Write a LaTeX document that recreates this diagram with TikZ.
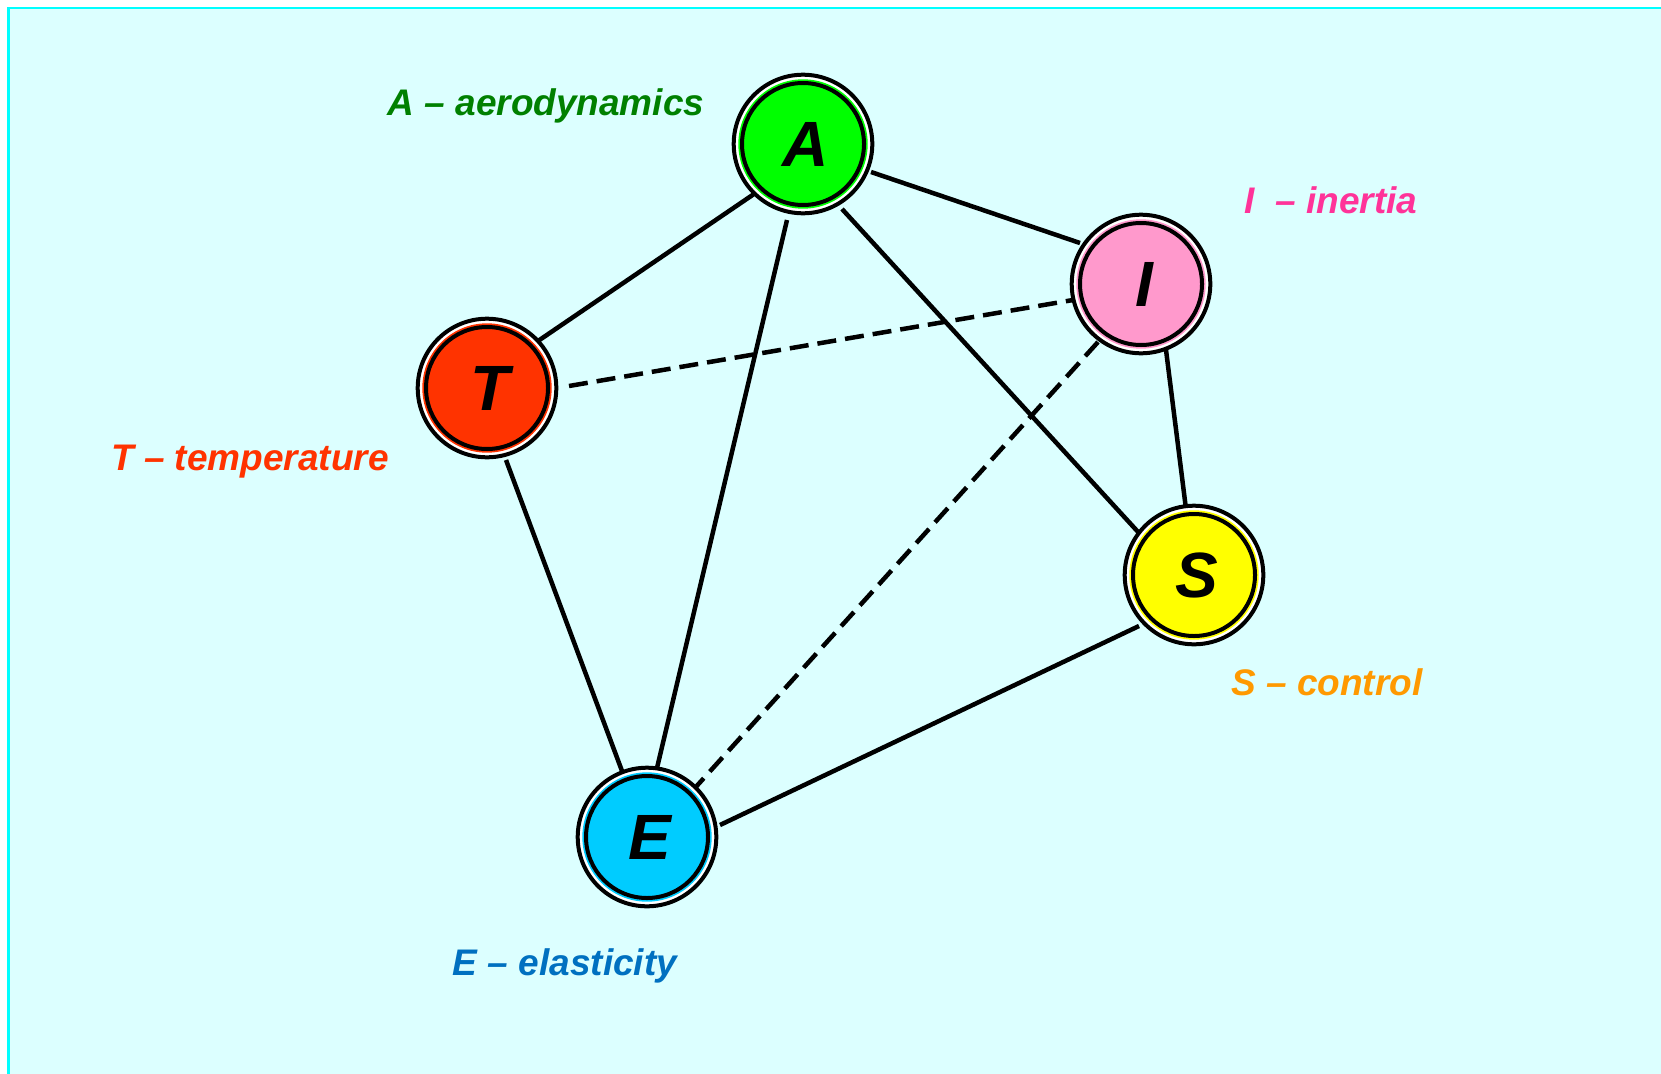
\documentclass[tikz,border=0pt]{standalone}
\usepackage{fontspec}
\setmainfont{Liberation Sans}
\usetikzlibrary{calc}
\definecolor{bgc}{RGB}{220,255,255}
\definecolor{bordc}{RGB}{0,255,255}
\definecolor{cA}{RGB}{0,255,0}
\definecolor{cT}{RGB}{255,51,0}
\definecolor{cI}{RGB}{255,153,204}
\definecolor{cS}{RGB}{255,255,0}
\definecolor{cE}{RGB}{0,204,255}
\definecolor{lA}{RGB}{0,128,0}
\definecolor{lT}{RGB}{255,51,0}
\definecolor{lI}{RGB}{255,51,153}
\definecolor{lS}{RGB}{255,153,0}
\definecolor{lE}{RGB}{0,112,192}
\tikzset{
  outerc/.style={circle, draw=black, line width=4pt, fill=white, minimum size=138.6pt, inner sep=0pt},
  edge/.style={line width=4.5pt, black},
  dedge/.style={edge, dash pattern=on 19pt off 9pt},
  letter/.style={font=\fontsize{64}{64}\selectfont\bfseries\itshape, inner sep=0pt},
  lbl/.style={font=\fontsize{37}{37}\selectfont\bfseries\itshape, anchor=base, inner sep=0pt}
}
\newcommand{\bubble}[4]{%
  \node[outerc] (#1) at (#2) {};
  \fill[#3] (#1.center) circle (64.7pt);
  \draw[black, line width=4pt, fill=#3] (#1.center) circle (61pt);
  \node[letter] (#1txt) at ($(#1.center)+(3,0)$) {#4};
}
\begin{document}
\begin{tikzpicture}[x=1pt,y=-1pt]
\useasboundingbox (0,0) rectangle (1661,1073);
\clip (0,0) rectangle (1661,1073);
\fill[white] (0,0) rectangle (1661,1073);
\draw[bordc, line width=2.7pt, fill=bgc] (8.7,8) rectangle (1700,1100);
% node centres
\coordinate (cAp) at (803,144);
\coordinate (cTp) at (487,388);
\coordinate (cIp) at (1141,284);
\coordinate (cSp) at (1194,575);
\coordinate (cEp) at (647,837);
% edges
\draw[edge] ($(cAp)+(-49,50)$) -- ($(cTp)+(51,-47)$);
\draw[edge] ($(cAp)+(68,28)$) -- ($(cIp)+(-61,-41)$);
\draw[edge] ($(cAp)+(-16,76)$) -- ($(cEp)+(10,-69)$);
\draw[edge] ($(cAp)+(39,65)$) -- ($(cSp)+(-55,-42)$);
\draw[dedge] ($(cTp)+(82,-2)$) -- ($(cIp)+(-68,16)$);
\draw[edge] ($(cTp)+(19,72)$) -- ($(cEp)+(-25,-66)$);
\draw[edge] ($(cIp)+(24,58)$) -- ($(cSp)+(-8,-66)$);
\draw[dedge] ($(cIp)+(-43,58)$) -- ($(cEp)+(47,-48)$);
\draw[edge] ($(cSp)+(-55,51)$) -- ($(cEp)+(73,-12)$);
% nodes
\bubble{A}{cAp}{cA}{A}
\bubble{T}{cTp}{cT}{T}
\bubble{I}{cIp}{cI}{I}
\bubble{S}{cSp}{cS}{S}
\bubble{E}{cEp}{cE}{E}
% labels
\node[lbl, text=lA] (labA) at (546,115) {A -- aerodynamics};
\node[lbl, text=lI] (labI) at (1331,213) {I\ \ -- inertia};
\node[lbl, text=lT] (labT) at (250,470) {T -- temperature};
\node[lbl, text=lS] (labS) at (1327,695) {S -- control};
\node[lbl, text=lE] (labE) at (565,975) {E -- elasticity};
\end{tikzpicture}
\end{document}
